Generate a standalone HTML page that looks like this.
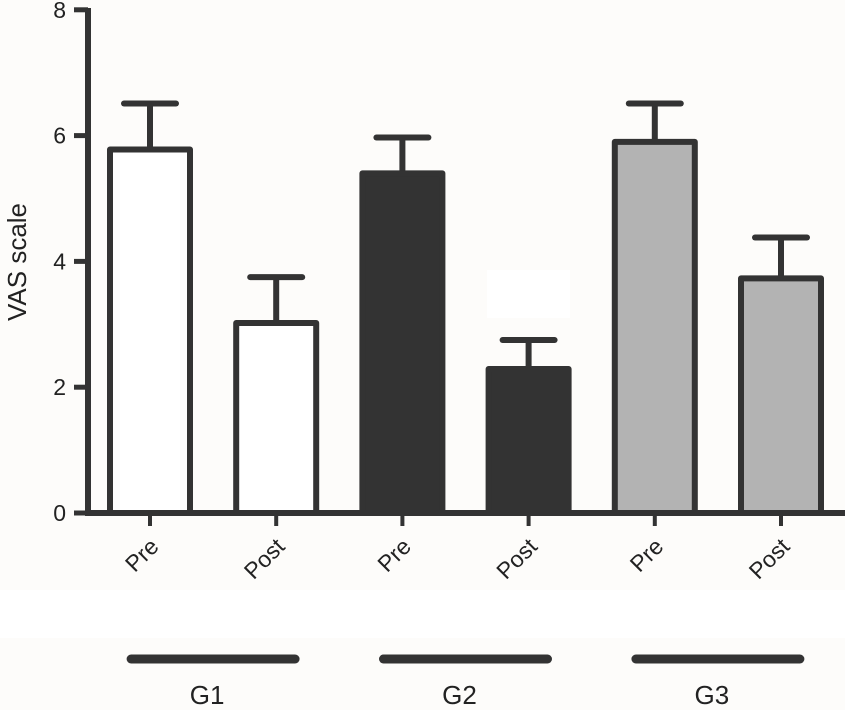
<!DOCTYPE html>
<html><head><meta charset="utf-8"><style>
html,body{margin:0;padding:0;background:#fdfcfa;}
svg{display:block;font-family:"Liberation Sans",Arial,sans-serif;}
</style></head><body>
<svg id="chart" width="845" height="710" viewBox="0 0 845 710">
<rect x="0" y="0" width="845" height="710" fill="#fdfcfa"/>
<rect x="487" y="270" width="83" height="48" fill="#ffffff"/>
<rect x="0" y="590" width="845" height="48" fill="#ffffff"/>
<g id="bars"></g>
<g id="axes"></g>
</svg>
<script>
const categories=["Pre","Post","Pre","Post","Pre","Post"];
const means=[5.78,3.02,5.40,2.29,5.90,3.73];
const errors=[0.73,0.73,0.57,0.46,0.61,0.65];
const fills=["#ffffff","#ffffff","#333333","#333333","#b3b3b3","#b3b3b3"];
const groups=["G1","G2","G3"];
const yTicks=[0,2,4,6,8];
const NS="http://www.w3.org/2000/svg";
const y0=513,pxPerUnit=62.9;
function yScale(v){return y0-v*pxPerUnit;}
function xCenter(i){return 150+i*126.2;}
const barW=86,ink="#333333";
function mk(t,a,parent){const e=document.createElementNS(NS,t);for(const k in a)e.setAttribute(k,a[k]);parent.appendChild(e);return e;}
const gb=document.getElementById('bars'),ga=document.getElementById('axes');
categories.forEach((c,i)=>{
 const cx=xCenter(i),top=yScale(means[i]),et=yScale(means[i]+errors[i]);
 const ev=mk('line',{x1:cx,x2:cx,y1:top,y2:et,stroke:ink,'stroke-width':6},gb);
 
 
 const ec=mk('line',{x1:cx-26,x2:cx+26,y1:et,y2:et,stroke:ink,'stroke-width':6,'stroke-linecap':'round'},gb);
 
 
 const r=mk('rect',{x:cx-barW/2+3,y:top,width:barW-6,height:y0-top,fill:fills[i],stroke:ink,'stroke-width':6,'stroke-linejoin':'round'},gb);
 
 
 const t=mk('line',{x1:cx,x2:cx,y1:y0,y2:526,stroke:ink,'stroke-width':4},ga);
 
 
 const lx=cx+10,ly=548;
 const tx=mk('text',{x:lx,y:ly,'font-size':23,fill:'#222','text-anchor':'end',transform:`rotate(-45 ${lx} ${ly})`},ga);
 tx.textContent=c;
 
 
});
const yax=mk('line',{x1:88,x2:88,y1:8,y2:y0+3,stroke:ink,'stroke-width':6},ga);


const xax=mk('line',{x1:85,x2:845,y1:y0,y2:y0,stroke:ink,'stroke-width':6},ga);


yTicks.forEach(v=>{
 const y=yScale(v);
 const l=mk('line',{x1:74,x2:88,y1:y,y2:y,stroke:ink,'stroke-width':5},ga);
 
 
 const t=mk('text',{x:66,y:y+8,'font-size':23,fill:'#222','text-anchor':'end'},ga);
 t.textContent=v;
 
 
});
const yt=mk('text',{x:0,y:0,'font-size':26,fill:'#222','text-anchor':'middle',transform:'translate(26 262) rotate(-90)'},ga);
yt.textContent='VAS scale';


groups.forEach((g,j)=>{
 const cx=(xCenter(2*j)+xCenter(2*j+1))/2;
 const l=mk('line',{x1:cx-82,x2:cx+82,y1:659,y2:659,stroke:ink,'stroke-width':9,'stroke-linecap':'round'},ga);
 
 
 const t=mk('text',{x:cx-6,y:704,'font-size':26,fill:'#222','text-anchor':'middle'},ga);
 t.textContent=g;
 
 
});
</script>
</body></html>
